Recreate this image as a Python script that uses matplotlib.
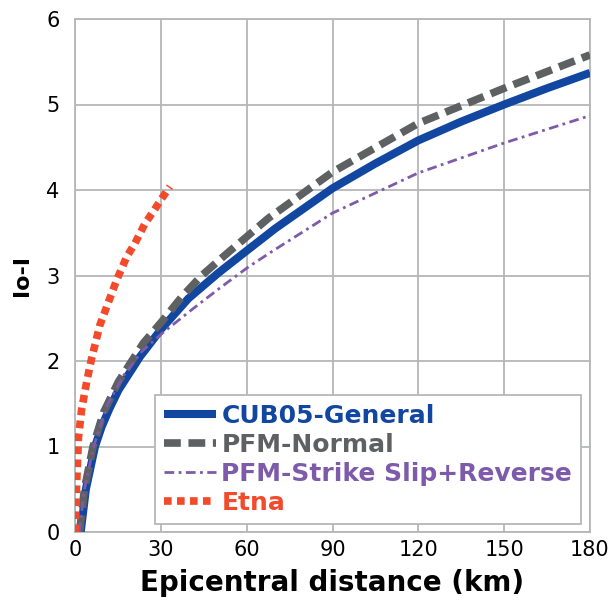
import numpy as np
import matplotlib
matplotlib.use('Agg')
from matplotlib import pyplot as plt

# values
cub_x = [2.0, 3.8, 7.0, 9.3, 12.0, 15.2, 22.7, 30.3, 39.6, 50.1, 60.4, 70, 90, 105, 120, 135, 150, 165, 180]
cub_y = [0.0, 0.5, 1.0, 1.23, 1.44, 1.66, 2.05, 2.38, 2.73, 3.03, 3.30, 3.55, 4.02, 4.31, 4.58, 4.80, 5.0, 5.19, 5.37]

pfm_n_x = [1.6, 3.3, 6.3, 10.0, 15.2, 23.9, 30.3, 37.3, 44.3, 52.5, 60.6, 67.6, 90, 120, 150, 180]
pfm_n_y = [0.0, 0.5, 1.0, 1.4, 1.76, 2.21, 2.46, 2.75, 3.0, 3.24, 3.47, 3.67, 4.21, 4.78, 5.19, 5.58]

pfm_ss_x = [1.5, 3.3, 6.5, 11.5, 17.0, 23.3, 30.3, 40.8, 50.1, 60.6, 68.8, 90, 120, 150, 180]
pfm_ss_y = [0.0, 0.5, 1.0, 1.5, 1.83, 2.11, 2.32, 2.60, 2.84, 3.10, 3.28, 3.73, 4.2, 4.55, 4.87]

etna_x = [0.1, 0.5, 1.2, 2.3, 4.1, 5.8, 8.7, 11.7, 14.6, 18.1, 21.0, 24.5, 27.4, 30.3, 33.2]
etna_y = [0.0, 0.5, 1.1, 1.43, 1.76, 2.03, 2.42, 2.69, 2.95, 3.22, 3.38, 3.61, 3.75, 3.9, 4.04]

labels = ['CUB05-General', 'PFM-Normal', 'PFM-Strike Slip+Reverse', 'Etna']
colors = ['#1147A0', '#5E6062', '#7E5BAA', '#F24A2B']

fig = plt.figure(figsize=(6.13, 6.05), dpi=100)
ax = fig.add_axes([75/613, 73/605, 515/613, 513/605])

ax.plot(cub_x, cub_y, color=colors[0], lw=5.8, solid_capstyle='butt', label=labels[0], zorder=3)
ax.plot(pfm_n_x, pfm_n_y, color=colors[1], lw=5.5, linestyle=(0, (2.2, 1.0)), label=labels[1], zorder=4)
ax.plot(pfm_ss_x, pfm_ss_y, color=colors[2], lw=2.0, linestyle=(0, (3.5, 1.6, 1, 1.6)), label=labels[2], zorder=5)
ax.plot(etna_x, etna_y, color=colors[3], lw=5.5, linestyle=(0, (1, 0.7)), label=labels[3], zorder=6)

ax.set_xlim(0, 180)
ax.set_ylim(0, 6)
ax.set_xticks(np.arange(0, 181, 30))
ax.set_yticks(np.arange(0, 7, 1))
ax.grid(True, color='#B4B6B8', lw=1.3)
ax.set_axisbelow(True)
for sp in ax.spines.values():
    sp.set_color('#B4B6B8')
    sp.set_linewidth(1.3)
ax.tick_params(length=0, labelsize=15)
ax.tick_params(axis='y', pad=11)
ax.tick_params(axis='x', pad=6)

ax.set_xlabel('Epicentral distance (km)', fontsize=20, fontweight='bold', labelpad=6)
ax.set_ylabel('Io-I', fontsize=16, fontweight='bold', labelpad=10)

leg = ax.legend(loc='lower right', bbox_to_anchor=(0.9825, 0.0156), fontsize=18,
                handlelength=2.1, handletextpad=0.2, labelspacing=0.2,
                borderpad=0.35, borderaxespad=0, fancybox=False, framealpha=1)
leg.get_frame().set_edgecolor('#B4B6B8')
leg.get_frame().set_linewidth(1.3)
for txt, c in zip(leg.get_texts(), colors):
    txt.set_color(c)
    txt.set_fontweight('bold')

fig.savefig('out.png', dpi=100)
